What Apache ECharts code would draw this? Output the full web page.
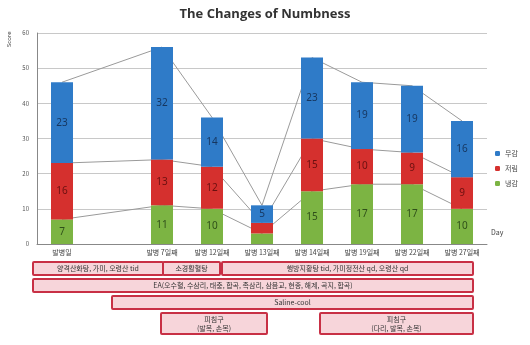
<!DOCTYPE html>
<html>
<head>
<meta charset="utf-8">
<script src="https://cdn.jsdelivr.net/npm/echarts@6/dist/echarts.min.js"></script>
<style>
  html, body { margin: 0; padding: 0; background: #fff; }
  #chart { width: 530px; height: 345px; }
</style>
</head>
<body>
<div id="chart"></div>
<script>
var days = ['발병일', '', '발병 7일째', '발병 12일째', '발병 13일째', '발병 14일째', '발병 19일째', '발병 22일째', '발병 27일째'];
var seriesNames = ['무감', '저림', '냉감'];
var greenVals = [7, null, 11, 10, 3, 15, 17, 17, 10];
var redVals = [16, null, 13, 12, 3, 15, 10, 9, 9];
var blueVals = [23, null, 32, 14, 5, 23, 19, 19, 16];
var yTicks = [0, 10, 20, 30, 40, 50, 60];

var treatTexts = [
  '양격산화탕, 가미, 오령산 tid',
  '소경활혈탕',
  '행방지황탕 tid, 가미정전산 qd, 오령산 qd',
  'EA(오수혈, 수삼리, 태충, 합곡, 족삼리, 삼음교, 현종, 해계, 곡지, 합곡)',
  'Saline-cool',
  '피침구\n(발목, 손목)',
  '피침구\n(다리, 발목, 손목)'
];

function cum(arrs) {
  return arrs[0].map(function (v, i) {
    if (v == null) return null;
    var s = 0;
    arrs.forEach(function (a) { s += a[i]; });
    return s;
  });
}
var lvl1 = cum([greenVals]);
var lvl2 = cum([greenVals, redVals]);
var lvl3 = cum([greenVals, redVals, blueVals]);

var chart = echarts.init(document.getElementById('chart'));

// treatment timeline boxes under the chart: [x, y, w, h]
var boxGeom = [
  [33, 262, 130, 13],
  [163, 262, 57, 13],
  [222, 262, 251, 13],
  [33, 279, 440, 13],
  [112, 296, 361, 13],
  [161, 313, 106, 21],
  [320, 313, 153, 21]
];
var graphics = boxGeom.map(function (g, i) {
  return {
    type: 'group', x: g[0], y: g[1],
    children: [
      { type: 'rect', shape: { x: 0, y: 0, width: g[2], height: g[3], r: 1 },
        style: { fill: '#f7d5da', stroke: '#c83045', lineWidth: 2 } },
      { type: 'text', x: g[2] / 2, y: g[3] / 2,
        style: {
          text: treatTexts[i], align: 'center', verticalAlign: 'middle',
          fontSize: 7, lineHeight: 9, fill: '#333', fontFamily: 'Noto Sans CJK KR'
        } }
    ]
  };
});
graphics.push({
  type: 'text', x: 6, y: 47, rotation: Math.PI / 2,
  style: { text: 'Score', fontSize: 6, fill: '#444', fontFamily: 'Noto Sans', align: 'left' }
});

function labelStyle(color) {
  return {
    show: true, position: 'inside', color: color, fontSize: 10, fontFamily: 'Noto Sans',
    formatter: function (p) { return p.value >= 5 ? p.value : ''; }
  };
}
function seriesLine(data) {
  return {
    type: 'line', data: data, connectNulls: true, z: 1, symbol: 'none', silent: true,
    lineStyle: { color: '#9a9a9a', width: 1 }
  };
}

chart.setOption({
  animation: false,
  textStyle: { fontFamily: 'Noto Sans CJK KR' },
  title: {
    text: 'The Changes of Numbness', left: 'center', top: 3,
    textStyle: { fontSize: 13, fontWeight: 'bold', color: '#333', fontFamily: 'Open Sans' }
  },
  legend: {
    data: seriesNames, orient: 'vertical', left: 490, top: 145,
    itemWidth: 5, itemHeight: 5, itemGap: 8,
    textStyle: { fontSize: 7, color: '#444' }
  },
  grid: { left: 37, right: 43, top: 33, bottom: 101 },
  xAxis: {
    type: 'category', data: days,
    name: 'Day', nameLocation: 'end', nameGap: 4,
    nameTextStyle: { fontSize: 7, color: '#444', verticalAlign: 'bottom', padding: [0, 0, 8, 0] },
    axisLine: { lineStyle: { color: '#888' } },
    axisTick: { show: false },
    axisLabel: { fontSize: 7, color: '#444', interval: 0, margin: 5 }
  },
  yAxis: {
    type: 'value', min: yTicks[0], max: yTicks[yTicks.length - 1], interval: 10,
    axisLine: { show: true, lineStyle: { color: '#888' } },
    axisTick: { show: false },
    axisLabel: { fontSize: 6, color: '#555', margin: 8 },
    splitLine: { lineStyle: { color: '#c8c8c8' } }
  },
  graphic: graphics,
  series: [
    { name: seriesNames[2], type: 'bar', stack: 's', data: greenVals, barWidth: 22, z: 2,
      itemStyle: { color: '#7cb443' }, label: labelStyle('#2f4f1a') },
    { name: seriesNames[1], type: 'bar', stack: 's', data: redVals, barWidth: 22, z: 2,
      itemStyle: { color: '#d5302e' }, label: labelStyle('#6a1010') },
    { name: seriesNames[0], type: 'bar', stack: 's', data: blueVals, barWidth: 22, z: 2,
      itemStyle: { color: '#2f7bc8' }, label: labelStyle('#16365f') },
    seriesLine(lvl1),
    seriesLine(lvl2),
    seriesLine(lvl3)
  ]
});
</script>
</body>
</html>
